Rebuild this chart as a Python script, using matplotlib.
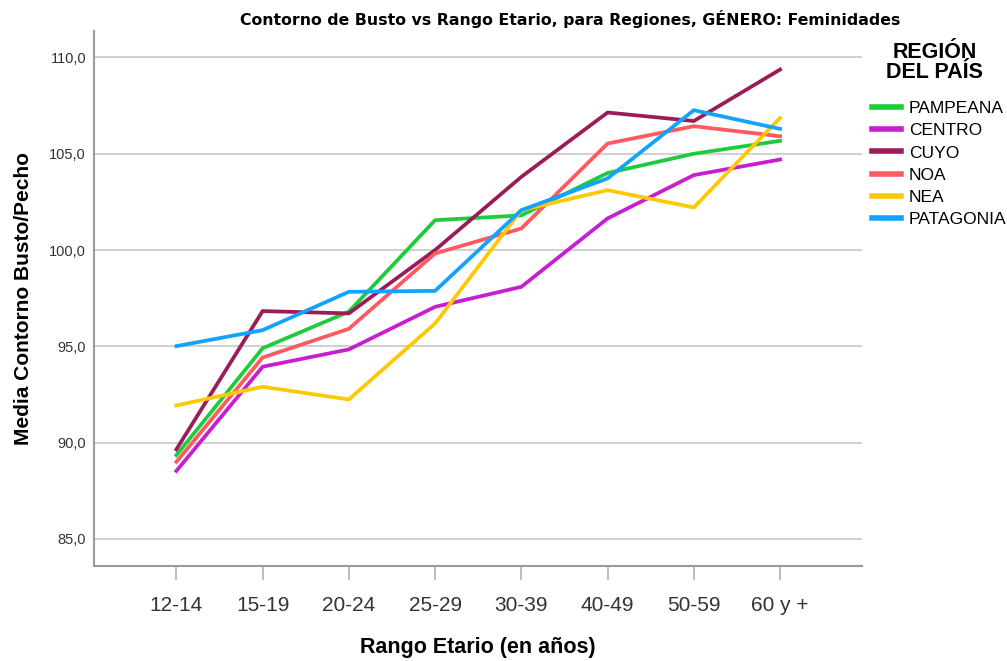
import matplotlib.pyplot as plt

plt.rcParams['font.family'] = ['Liberation Sans', 'DejaVu Sans']

rangos = ['12-14', '15-19', '20-24', '25-29', '30-39', '40-49', '50-59', '60 y +']
regiones = ['PAMPEANA', 'CENTRO', 'CUYO', 'NOA', 'NEA', 'PATAGONIA']
colores = ['#1ecb3a', '#c71ed2', '#9b1d57', '#ff5a5f', '#ffc805', '#12a2ff']

pampeana = [89.35, 94.9, 96.8, 101.55, 101.8, 104.0, 105.0, 105.67]
centro = [88.53, 93.94, 94.84, 97.05, 98.09, 101.64, 103.89, 104.7]
cuyo = [89.65, 96.83, 96.71, 100.0, 103.8, 107.14, 106.7, 109.37]
noa = [89.0, 94.42, 95.91, 99.82, 101.12, 105.53, 106.43, 105.91]
nea = [91.93, 92.9, 92.24, 96.19, 102.07, 103.11, 102.21, 106.86]
patagonia = [95.01, 95.84, 97.83, 97.88, 102.07, 103.72, 107.26, 106.29]
series = [pampeana, centro, cuyo, noa, nea, patagonia]

fig = plt.figure(figsize=(10.07, 6.61), dpi=100)
ax = fig.add_axes([0.0938, 0.1442, 0.7622, 0.8088])

x = list(range(len(rangos)))
for nombre, valores, color in zip(regiones, series, colores):
    ax.plot(x, valores, color=color, linewidth=2.7, label=nombre, solid_joinstyle='miter')

ax.set_xlim(-0.95, 7.95)
ax.set_ylim(83.61, 111.37)
ax.set_yticks([85, 90, 95, 100, 105, 110])
ax.set_yticklabels([f'{v:.1f}'.replace('.', ',') for v in [85, 90, 95, 100, 105, 110]])
ax.set_xticks(x)
ax.set_xticklabels(rangos)
ax.yaxis.grid(True, color='#c8c8c8', linewidth=1.2)
ax.set_axisbelow(True)

for s in ['top', 'right']:
    ax.spines[s].set_visible(False)
for s in ['left', 'bottom']:
    ax.spines[s].set_color('#9a9a9a')
    ax.spines[s].set_linewidth(1.5)

ax.tick_params(axis='y', length=0, pad=6, labelsize=10.5, labelcolor='#333333')
ax.tick_params(axis='x', length=10, width=1.2, color='#b0b0b0', pad=12, labelsize=15, labelcolor='#333333')

ax.set_xlabel('Rango Etario (en años)', fontsize=15.5, fontweight='bold', labelpad=16)
ax.set_ylabel('Media Contorno Busto/Pecho', fontsize=15, fontweight='bold', labelpad=12)
fig.text(0.566, 0.972, 'Contorno de Busto vs Rango Etario, para Regiones, GÉNERO: Feminidades',
         ha='center', va='center', fontsize=11.3, fontweight='bold', family=['DejaVu Sans'])

fig.text(0.928, 0.906, 'REGIÓN\nDEL PAÍS', ha='center', va='center', fontsize=15.5,
         fontweight='bold', linespacing=0.95)
leg = ax.legend(loc='upper left', bbox_to_anchor=(0.859, 0.858), bbox_transform=fig.transFigure,
                frameon=False, fontsize=12.5, handlelength=1.67, handletextpad=0.45,
                labelspacing=0.41, borderaxespad=0)
for h in leg.get_lines():
    h.set_linewidth(4)

fig.savefig('out.png', dpi=100)
